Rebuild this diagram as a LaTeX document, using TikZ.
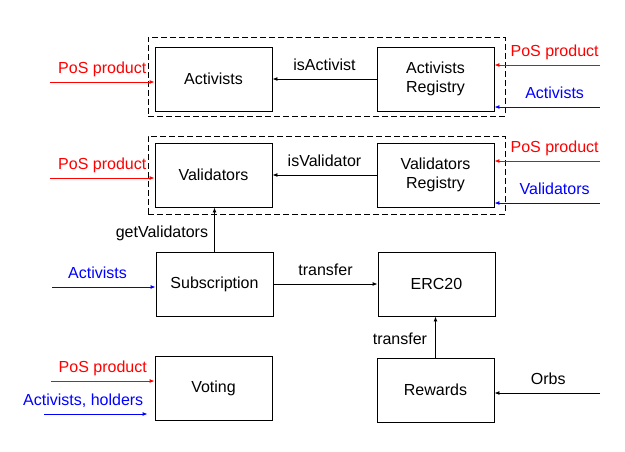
\documentclass[tikz,border=0pt]{standalone}
\usepackage{fontspec}
\setmainfont{Liberation Sans}
\usetikzlibrary{arrows.meta,calc}
\begin{document}
\begin{tikzpicture}[x=1pt,y=-1pt,
 box/.style={draw, line width=0.9pt, minimum width=117pt, minimum height=64pt, inner sep=0pt, align=center, font=\fontsize{16}{19}\selectfont},
 grp/.style={draw, line width=0.9pt, dash pattern=on 6pt off 3pt, inner sep=0pt},
 conn/.style={line width=0.9pt, -{Latex[length=5pt,width=4pt]}},
 lab/.style={anchor=base, yshift=8.5pt, inner sep=0pt, font=\fontsize{16}{19}\selectfont},
 vlab/.style={anchor=base east, inner sep=0pt, font=\fontsize{16}{19}\selectfont},
]
\useasboundingbox (0,0) rectangle (625,451);
% groups
\node[grp, minimum width=357pt, minimum height=79pt] (g1) at (326.5,76.5) {};
\node[grp, minimum width=357pt, minimum height=78pt] (g2) at (326.5,175) {};
% boxes
\node[box] (act) at (213.5,79) {Activists};
\node[box] (actreg) at (435.5,79) {Activists\\Registry};
\node[box] (val) at (213.5,175) {Validators};
\node[box] (valreg) at (435.5,175) {Validators\\Registry};
\node[box] (sub) at (214.5,284) {Subscription};
\node[box] (erc) at (436.5,284) {ERC20};
\node[box] (vot) at (213.5,388) {Voting};
\node[box] (rew) at (435.5,390) {Rewards};
% free ends
\coordinate (inA) at (50,82);
\coordinate (inAR1) at (600,65);
\coordinate (inAR2) at (600,107);
\coordinate (inV) at (50,178);
\coordinate (inVR1) at (600,161);
\coordinate (inVR2) at (600,203);
\coordinate (inS) at (52,287);
\coordinate (inVo1) at (51,381);
\coordinate (inVo2) at (44,414);
\coordinate (inO) at (600,393);
% internal connectors
\draw[conn] (actreg.west) -- node[lab]{isActivist} (act.east);
\draw[conn] (valreg.west) -- node[lab]{isValidator} (val.east);
\draw[conn] (sub.north) -- node[vlab, xshift=-6pt, yshift=-7.5pt]{getValidators} (sub.north |- val.south);
\draw[conn] (sub.east) -- node[lab]{transfer} (erc.west);
\draw[conn] (rew.north) -- node[vlab, xshift=-8pt, yshift=-7pt]{transfer} (rew.north |- erc.south);
% inputs
\draw[conn, red] (inA) -- node[lab]{PoS product} (inA -| act.west);
\draw[conn, red] (inAR1) -- node[lab, pos=0.43]{PoS product} (inAR1 -| actreg.east);
\draw[conn, blue] (inAR2) -- node[lab, pos=0.43]{Activists} (inAR2 -| actreg.east);
\draw[conn, red] (inV) -- node[lab]{PoS product} (inV -| val.west);
\draw[conn, red] (inVR1) -- node[lab, pos=0.43]{PoS product} (inVR1 -| valreg.east);
\draw[conn, blue] (inVR2) -- node[lab, pos=0.43]{Validators} (inVR2 -| valreg.east);
\draw[conn, blue] (inS) -- node[lab, pos=0.44]{Activists} (inS -| sub.west);
\draw[conn, red] (inVo1) -- node[lab]{PoS product} (inVo1 -| vot.west);
\draw[conn, blue, shorten >=7pt] (inVo2) -- node[lab, pos=0.355]{Activists, holders} (inVo2 -| vot.west);
\draw[conn] (inO) -- node[lab, pos=0.49]{Orbs} (inO -| rew.east);
\end{tikzpicture}
\end{document}
